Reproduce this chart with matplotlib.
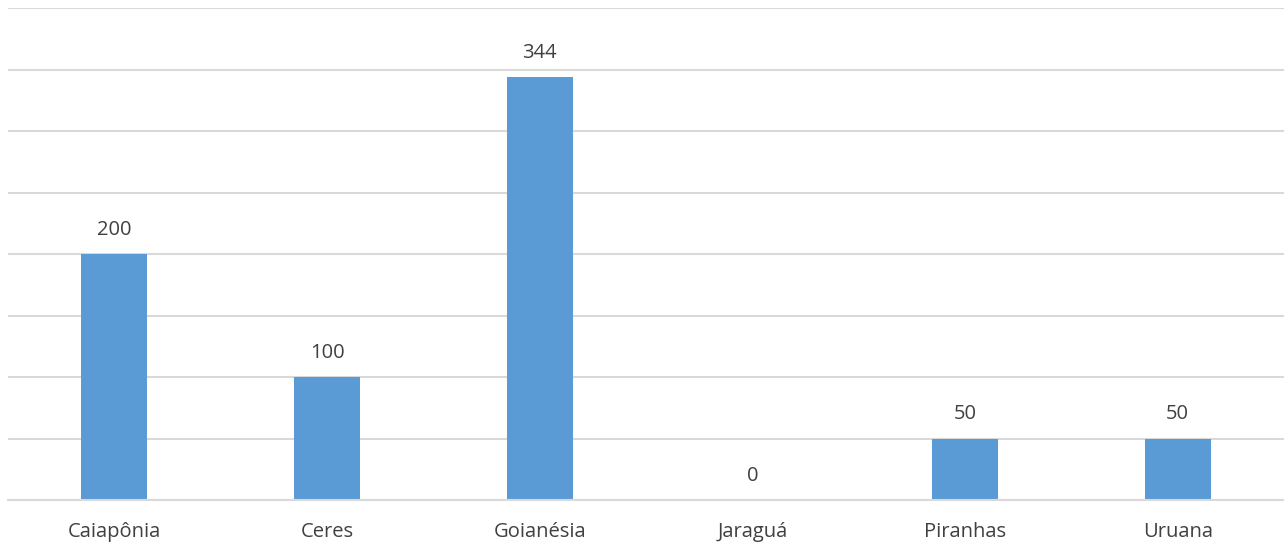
import matplotlib
matplotlib.use('Agg')
import matplotlib.pyplot as plt

categories = ["Caiapônia", "Ceres", "Goianésia", "Jaraguá", "Piranhas", "Uruana"]
values = [200, 100, 344, 0, 50, 50]

plt.rcParams['font.family'] = ['Open Sans', 'DejaVu Sans']

fig = plt.figure(figsize=(12.84, 5.45), dpi=100)
ax = fig.add_axes([8 / 1284, 1 - 500 / 545, 1276 / 1284, 492 / 545])

x = range(len(categories))
ax.bar(x, values, width=0.31, color='#5B9BD5', zorder=2)

for xi, v in zip(x, values):
    ax.text(xi, v + 11.5, str(v), ha='center', va='bottom', fontsize=14.5, color='#404040')

ax.set_xlim(-0.5, len(categories) - 0.5)
ax.set_ylim(0, 400)
ax.set_yticks(range(0, 401, 50))
ax.yaxis.grid(True, color='#D9D9D9', linewidth=1.5, zorder=0)
ax.tick_params(axis='y', left=False, labelleft=False)
ax.tick_params(axis='x', bottom=False, labelsize=14.5, labelcolor='#404040', pad=12)
ax.set_xticks(list(x))
ax.set_xticklabels(categories)
for side in ['top', 'left', 'right']:
    ax.spines[side].set_visible(False)
ax.spines['bottom'].set_color('#D9D9D9')
ax.spines['bottom'].set_linewidth(1.5)

fig.savefig('out.png', dpi=100)
